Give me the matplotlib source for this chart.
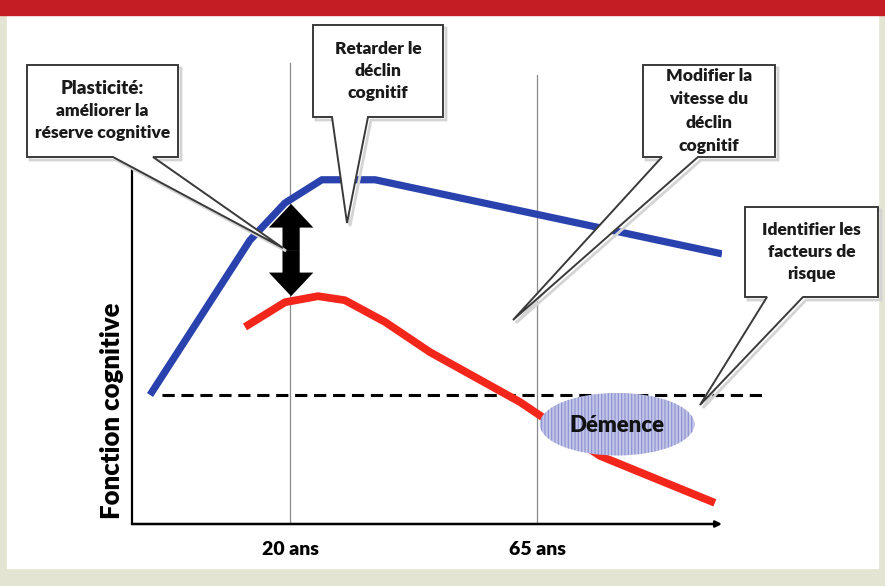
import matplotlib
matplotlib.use("Agg")
import matplotlib.pyplot as plt
from matplotlib.patches import Rectangle, Polygon, Ellipse, FancyArrowPatch

plt.rcParams['font.family'] = ['Lato', 'DejaVu Sans']
plt.rcParams['hatch.linewidth'] = 0.9

# ---------------- data (age in years, cognitive function arbitrary units) -------------
blue_age = [-5.5, 12.7, 19.1, 25.8, 35.5, 98.7]
blue_val = [25.6, 56.3, 63.7, 68.3, 68.3, 53.6]

red_age = [11.8, 19.1, 25.1, 30.0, 37.3, 45.5, 61.9, 76.5, 97.4]
red_val = [39.1, 44.0, 45.2, 44.4, 40.1, 34.1, 24.2, 13.5, 4.2]

threshold = 25.6           # dementia threshold (dashed line)
tick_ages = [20, 65]
tick_labels = ['20 ans', '65 ans']
ylabel = 'Fonction cognitive'
dementia_label = 'Démence'

callout_texts = [
    ['Plasticité:', 'améliorer la', 'réserve cognitive'],
    ['Retarder le', 'déclin', 'cognitif'],
    ['Modifier la', 'vitesse du', 'déclin', 'cognitif'],
    ['Identifier les', 'facteurs de', 'risque'],
]

WEIGHT = 'heavy'

# ---------------- figure -----------------
W, H = 885, 586
fig = plt.figure(figsize=(W / 100, H / 100), dpi=100)

# background axes in pixel coordinates
bg = fig.add_axes([0, 0, 1, 1], zorder=0)
bg.set_xlim(0, W); bg.set_ylim(H, 0); bg.axis('off')
bg.add_patch(Rectangle((0, 0), W, H, color='#e4e4d3'))
bg.add_patch(Rectangle((7, 15), 871, 553, color='white'))
bg.add_patch(Rectangle((0, 0), W, 15, color='#c41d23'))

# main chart axes
px_left, px_right, px_bottom, px_top = 132, 722, 524, 20
ax = fig.add_axes([px_left / W, (H - px_bottom) / H,
                   (px_right - px_left) / W, (px_bottom - px_top) / H], zorder=1)
ax.patch.set_alpha(0)
px_per_year = (537 - 290) / 45
ax.set_xlim(20 - (290 - px_left) / px_per_year, 20 + (px_right - 290) / px_per_year)
ax.set_ylim(0, 100)
for s in ax.spines.values():
    s.set_visible(False)

# guide verticals
ax.plot([20, 20], [0, 91.5], color='#8a8a8a', lw=0.9, zorder=1)
ax.plot([65, 65], [0, 89.0], color='#8a8a8a', lw=0.9, zorder=1)

# axes lines
ax.annotate('', xy=(1.0, 0), xytext=(0, 0), xycoords='axes fraction',
            arrowprops=dict(arrowstyle='-|>', lw=1.8, color='black',
                            mutation_scale=9, shrinkA=0, shrinkB=0), zorder=3)
ax.plot([ax.get_xlim()[0]] * 2, [0, 71.8], color='black', lw=1.6, zorder=3, clip_on=False)

# ticks
ax.set_xticks(tick_ages)
ax.set_xticklabels(tick_labels, fontsize=14, fontweight=WEIGHT)
ax.tick_params(axis='x', length=0, pad=12)
ax.set_yticks([])

ax.text(-0.034, 0.224, ylabel, rotation=90, transform=ax.transAxes,
        ha='center', va='center', fontsize=18.5, fontweight=WEIGHT)

# threshold
ax.plot([-3.3, 106.5], [threshold, threshold], color='black', lw=2.2,
        ls=(0, (4, 2.2)), zorder=2, clip_on=False)

# curves
ax.plot(blue_age, blue_val, color='#2a42ad', lw=5.2, solid_joinstyle='round',
        solid_capstyle='butt', zorder=4)
ax.plot(red_age, red_val, color='#f3261c', lw=5.6, solid_joinstyle='round',
        solid_capstyle='butt', zorder=4)

# dementia zone
ell = Ellipse((79.6, 19.8), 28.2, 12.4, facecolor='#c3c6e9', edgecolor='#8f95cf',
              hatch='|' * 5, lw=0, zorder=5)
ax.add_patch(ell)
ax.text(79.6, 19.6, dementia_label, ha='center', va='center', fontsize=16,
        fontweight=WEIGHT, color='#111111', zorder=6)

# double arrow (reserve gap) : two filled "simple" arrows from the midpoint
gap_age = 20.2
gap_lo, gap_hi = 45.2, 63.5
gap_mid = (gap_lo + gap_hi) / 2
for end in (gap_lo, gap_hi):
    ax.add_patch(FancyArrowPatch((gap_age, gap_mid), (gap_age, end),
                                 arrowstyle='simple,head_length=0.85,head_width=1.6,tail_width=0.62',
                                 mutation_scale=20, lw=0, color='black', zorder=6,
                                 shrinkA=0, shrinkB=0))

# overlay for callouts (pixel coordinates)
ov = fig.add_axes([0, 0, 1, 1], zorder=2)
ov.set_xlim(0, W); ov.set_ylim(H, 0); ov.axis('off'); ov.patch.set_alpha(0)

boxes = [
    # (left, top, right, bottom, wedge_x0, wedge_x1, tip)
    (27, 65, 178, 157, 113, 153, (283, 248)),
    (313, 25, 443, 117, 332, 368, (347, 223)),
    (643, 65, 775, 157, 662, 698, (513, 320)),
    (745, 207, 878, 297, 767, 803, (700, 405)),
]
for (l, t, r, b, w0, w1, tip), lines in zip(boxes, callout_texts):
    pts = [(l, t), (r, t), (r, b), (w1, b), tip, (w0, b), (l, b)]
    sh = [(x + 3, y + 3) for x, y in pts]
    ov.add_patch(Polygon(sh, closed=True, facecolor='none', edgecolor='#d4d4d4',
                         lw=2, zorder=1))
    ov.add_patch(Polygon(pts, closed=True, facecolor='white', edgecolor='#3a3a3a',
                         lw=1.4, joinstyle='miter', zorder=2))
    cx = (l + r) / 2
    n = len(lines)
    step = 23.5 if n > 3 else 22
    y0 = (t + b) / 2 - step * (n - 1) / 2
    for i, line in enumerate(lines):
        fs = 12.5
        if line == 'Plasticité:':
            fs = 13.5
        ov.text(cx, y0 + i * step, line, ha='center', va='center', fontsize=fs,
                fontweight=WEIGHT, color='#1a1a1a', zorder=3)

fig.savefig('out.png', dpi=100)
